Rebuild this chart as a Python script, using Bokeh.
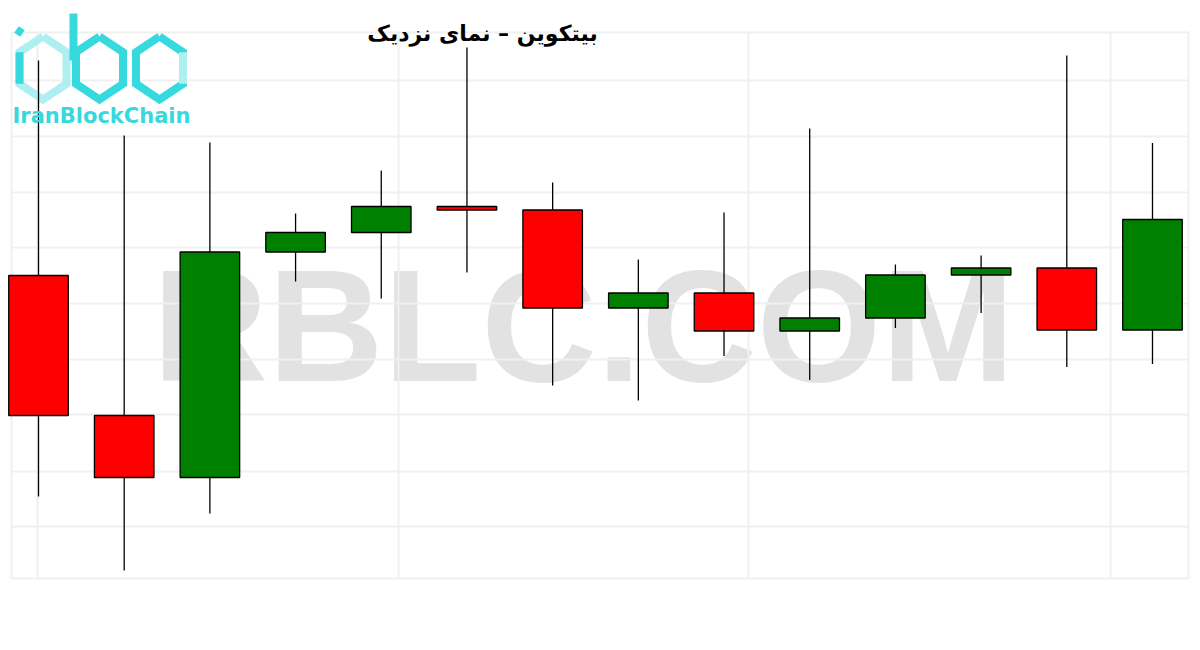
from bokeh.plotting import figure
from bokeh.models import ColumnDataSource, Range1d, Label
from bokeh.embed import file_html
from bokeh.resources import INLINE

# ---- data ----
candle_idx = list(range(14))
opens  = [9450, 9170, 9046, 9497, 9536, 9588, 9581, 9385, 9415, 9339, 9365, 9451, 9465, 9341]
highs  = [9880, 9730, 9716, 9574, 9660, 9906, 9636, 9482, 9576, 9744, 9472, 9490, 9890, 9715]
lows   = [9008, 8860, 8974, 9438, 9404, 9456, 9230, 9200, 9289, 9241, 9345, 9375, 9267, 9273]
closes = [9170, 9046, 9497, 9536, 9588, 9581, 9385, 9415, 9339, 9365, 9451, 9465, 9341, 9562]

title_text = "بیتکوین – نمای نزدیک"
watermark_text = "RBLC.COM"
logo_text = "IranBlockChain"

W, H = 1192, 642

src = ColumnDataSource(dict(
    x=candle_idx,
    open=opens, high=highs, low=lows, close=closes,
    top=[max(o, c) for o, c in zip(opens, closes)],
    bottom=[min(o, c) for o, c in zip(opens, closes)],
    color=["green" if c >= o else "red" for o, c in zip(opens, closes)],
))

p = figure(width=W, height=H, output_backend="svg", toolbar_location=None,
           x_range=Range1d(-0.4435, 13.467), y_range=Range1d(8716, 10000),
           x_axis_location=None, y_axis_location=None, min_border=0)
p.outline_line_color = None
p.grid.visible = False
p.background_fill_color = "white"
p.border_fill_color = "white"

# pixel coordinate system for decorations
p.extra_x_ranges = {"px": Range1d(0, W)}
p.extra_y_ranges = {"px": Range1d(H, 0)}

# faint background grid (decorative)
gx0, gx1, gy0, gy1 = 11, 1188, 32, 578
hy = [80, 136, 192, 247, 303, 359, 414, 471, 526]
vx = [37, 398, 748, 1110]
xs = [[gx0, gx1] for _ in hy] + [[x, x] for x in vx] + [[gx0, gx1, gx1, gx0, gx0]]
ys = [[y, y] for y in hy] + [[gy0, gy1] for _ in vx] + [[gy0, gy0, gy1, gy1, gy0]]
p.multi_line(xs, ys, line_color="#f0f0f0", line_width=2,
             x_range_name="px", y_range_name="px")

# watermark
wm = Label(x=583, y=325, text=watermark_text, x_range_name="px", y_range_name="px",
           text_font="Liberation Sans", text_font_style="bold", text_font_size="160px",
           text_color="#e2e2e2", text_align="center", text_baseline="alphabetic",
           level="underlay")
p.add_layout(wm)

# logo hexagons
def hexagon(cx, cy, rx, ry):
    return ([cx, cx + rx, cx + rx, cx, cx - rx, cx - rx, cx],
            [cy - ry, cy - ry / 2, cy + ry / 2, cy + ry, cy + ry / 2, cy - ry / 2, cy - ry])

cyan = "#36d9de"
light = "#aeeff1"
rx, ry, cy = 23.5, 31.5, 67.5
h1 = hexagon(42.5, cy, rx, ry)
h2 = hexagon(99, cy, rx, ry)
h3 = hexagon(159, cy, rx, ry)
p.multi_line([h1[0]], [h1[1]], line_color=light, line_width=8, line_join="miter",
             x_range_name="px", y_range_name="px")
p.multi_line([h2[0], h3[0]], [h2[1], h3[1]], line_color=cyan, line_width=8,
             line_join="miter", x_range_name="px", y_range_name="px")
p.multi_line([[19, 19], [73, 73], [16, 22], [182.5, 182.5]],
             [[cy - ry / 2, cy + ry / 2], [13, 60], [29, 33], [cy - ry / 2, cy + ry / 2]],
             line_color=[cyan, cyan, cyan, light], line_width=[8, 8, 8, 8],
             x_range_name="px", y_range_name="px")
logo = Label(x=12, y=115, text=logo_text, x_range_name="px", y_range_name="px",
             text_font="DejaVu Sans", text_font_style="bold", text_font_size="21px",
             text_color=cyan, text_align="left", text_baseline="alphabetic")
p.add_layout(logo)

# candles
p.segment(x0="x", y0="high", x1="x", y1="low", source=src, line_color="black", line_width=1.3)
p.vbar(x="x", width=0.695, top="top", bottom="bottom", source=src,
       fill_color="color", line_color="black", line_width=1.3)

# title
title = Label(x=482, y=33, text=title_text, x_range_name="px", y_range_name="px",
              text_font="DejaVu Sans", text_font_style="bold", text_font_size="22px",
              text_color="black", text_align="center", text_baseline="middle")
p.add_layout(title)

open("out.html", "w").write(file_html(p, INLINE))
